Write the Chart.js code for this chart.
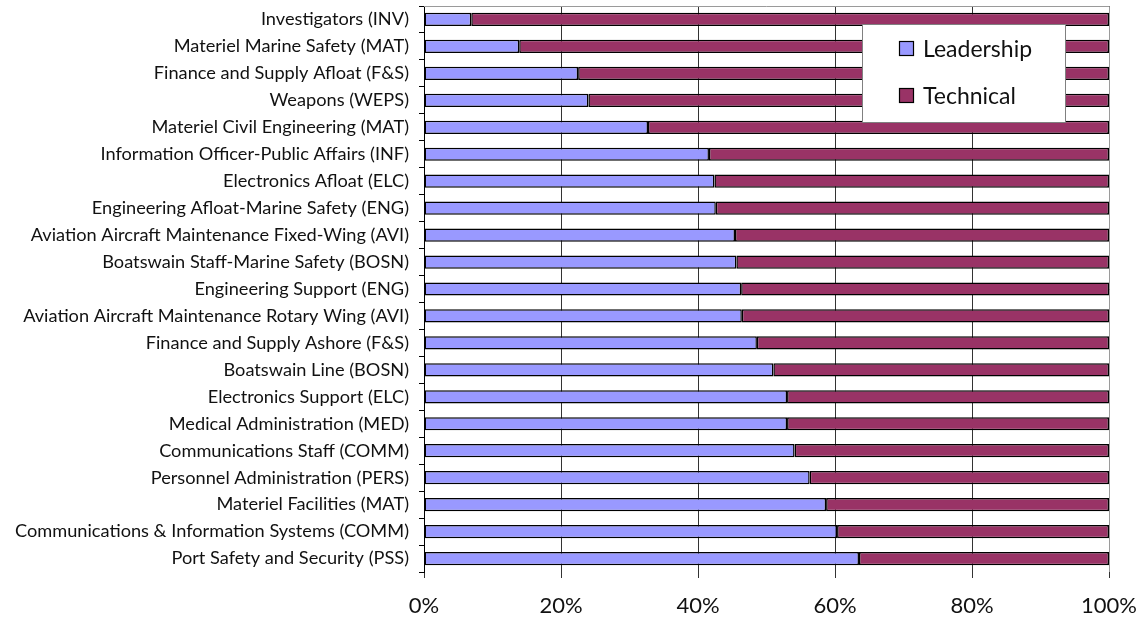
<!DOCTYPE html>
<html>
<head>
<meta charset="utf-8">
<script src="https://cdn.jsdelivr.net/npm/chart.js@4"></script>
<style>
  html, body { margin: 0; padding: 0; background: #ffffff; }
  #wrap { width: 1144px; height: 622px; position: relative; }
</style>
</head>
<body>
<div id="wrap"><canvas id="chart" width="1144" height="622"></canvas></div>
<script>
// Career specialties, top to bottom
const categories = [
  "Investigators (INV)",
  "Materiel Marine Safety (MAT)",
  "Finance and Supply Afloat (F&S)",
  "Weapons (WEPS)",
  "Materiel Civil Engineering (MAT)",
  "Information Officer-Public Affairs (INF)",
  "Electronics Afloat (ELC)",
  "Engineering Afloat-Marine Safety (ENG)",
  "Aviation Aircraft Maintenance Fixed-Wing (AVI)",
  "Boatswain Staff-Marine Safety (BOSN)",
  "Engineering Support (ENG)",
  "Aviation Aircraft Maintenance Rotary Wing (AVI)",
  "Finance and Supply Ashore (F&S)",
  "Boatswain Line (BOSN)",
  "Electronics Support (ELC)",
  "Medical Administration (MED)",
  "Communications Staff (COMM)",
  "Personnel Administration (PERS)",
  "Materiel Facilities (MAT)",
  "Communications & Information Systems (COMM)",
  "Port Safety and Security (PSS)"
];

// Share of competencies, percent
const leadership = [6.9, 13.9, 22.5, 24.0, 32.7, 41.6, 42.4, 42.6, 45.4, 45.6, 46.3, 46.4, 48.6, 51.0, 53.0, 53.0, 54.1, 56.3, 58.7, 60.3, 63.5];
const technical  = [93.1, 86.1, 77.5, 76.0, 67.3, 58.4, 57.6, 57.4, 54.6, 54.4, 53.7, 53.6, 51.4, 49.0, 47.0, 47.0, 45.9, 43.7, 41.3, 39.7, 36.5];

const seriesNames = ["Leadership", "Technical"];
const xTicks = [0, 20, 40, 60, 80, 100];

const FONT = "Lato, 'Open Sans', sans-serif";

// Boxed legend drawn over the upper right of the plot area
const boxLegend = {
  id: 'boxLegend',
  afterDraw(chart) {
    const ctx = chart.ctx;
    const ca = chart.chartArea;
    const w = 204, h = 99;
    const x = ca.right - 43 - w;
    const y = ca.top + 18;
    ctx.save();
    ctx.fillStyle = '#ffffff';
    ctx.fillRect(x, y, w, h);
    ctx.strokeStyle = '#808080';
    ctx.lineWidth = 1;
    ctx.strokeRect(x + 0.5, y + 0.5, w - 1, h - 1);
    ctx.font = "23px " + FONT;
    ctx.textBaseline = 'middle';
    chart.data.datasets.forEach((ds, i) => {
      const cy = y + 24.5 + i * 47;
      ctx.fillStyle = ds.backgroundColor;
      ctx.fillRect(x + 37.5, cy - 7, 14, 14);
      ctx.strokeStyle = '#000000';
      ctx.lineWidth = 1.2;
      ctx.strokeRect(x + 37.5, cy - 7, 14, 14);
      ctx.fillStyle = '#111111';
      ctx.fillText(ds.label, x + 61, cy + 1);
    });
    ctx.restore();
  }
};

// Gray frame on the top and right edges of the plot area
const plotFrame = {
  id: 'plotFrame',
  beforeDatasetsDraw(chart) {
    const ctx = chart.ctx;
    const ca = chart.chartArea;
    ctx.save();
    ctx.strokeStyle = '#9a9a9a';
    ctx.lineWidth = 1;
    ctx.beginPath();
    ctx.moveTo(ca.left, ca.top + 0.5);
    ctx.lineTo(ca.right + 0.5, ca.top + 0.5);
    ctx.lineTo(ca.right + 0.5, ca.bottom);
    ctx.stroke();
    ctx.restore();
  }
};

new Chart(document.getElementById('chart'), {
  type: 'bar',
  data: {
    labels: categories,
    datasets: [
      {
        label: seriesNames[0],
        data: leadership,
        backgroundColor: '#9999ff',
        borderColor: '#000000',
        borderWidth: 1.5,
        borderSkipped: false,
        barPercentage: 0.49,
        categoryPercentage: 1.0
      },
      {
        label: seriesNames[1],
        data: technical,
        backgroundColor: '#993366',
        borderColor: '#000000',
        borderWidth: 1.5,
        borderSkipped: false,
        barPercentage: 0.49,
        categoryPercentage: 1.0
      }
    ]
  },
  options: {
    indexAxis: 'y',
    responsive: false,
    animation: false,
    devicePixelRatio: 1,
    layout: { padding: { top: 6, right: 35, left: 0, bottom: 0 } },
    plugins: {
      legend: { display: false },
      tooltip: { enabled: false }
    },
    scales: {
      x: {
        stacked: true,
        min: 0,
        max: 100,
        afterBuildTicks(scale) {
          scale.ticks = xTicks.map(v => ({ value: v }));
        },
        afterFit(scale) {
          scale.height = 50;
          scale.paddingLeft = 0;
          scale.paddingRight = 0;
        },
        ticks: {
          callback: v => v + '%',
          font: { family: FONT, size: 22 },
          color: '#111111',
          padding: 15,
          maxRotation: 0
        },
        grid: {
          color: '#333333',
          lineWidth: 1,
          drawTicks: true,
          tickLength: 6,
          tickColor: '#333333'
        },
        border: { display: false }
      },
      y: {
        stacked: true,
        afterFit(scale) {
          scale.width = 424;
          scale.paddingTop = 0;
          scale.paddingBottom = 0;
        },
        ticks: {
          font: { family: FONT, size: 18.2 },
          color: '#111111',
          padding: 10,
          autoSkip: false
        },
        grid: {
          offset: true,
          drawOnChartArea: false,
          drawTicks: true,
          tickLength: 5,
          tickColor: '#000000'
        },
        border: { display: true, color: '#000000', width: 1 }
      }
    }
  },
  plugins: [plotFrame, boxLegend]
});
</script>
</body>
</html>
